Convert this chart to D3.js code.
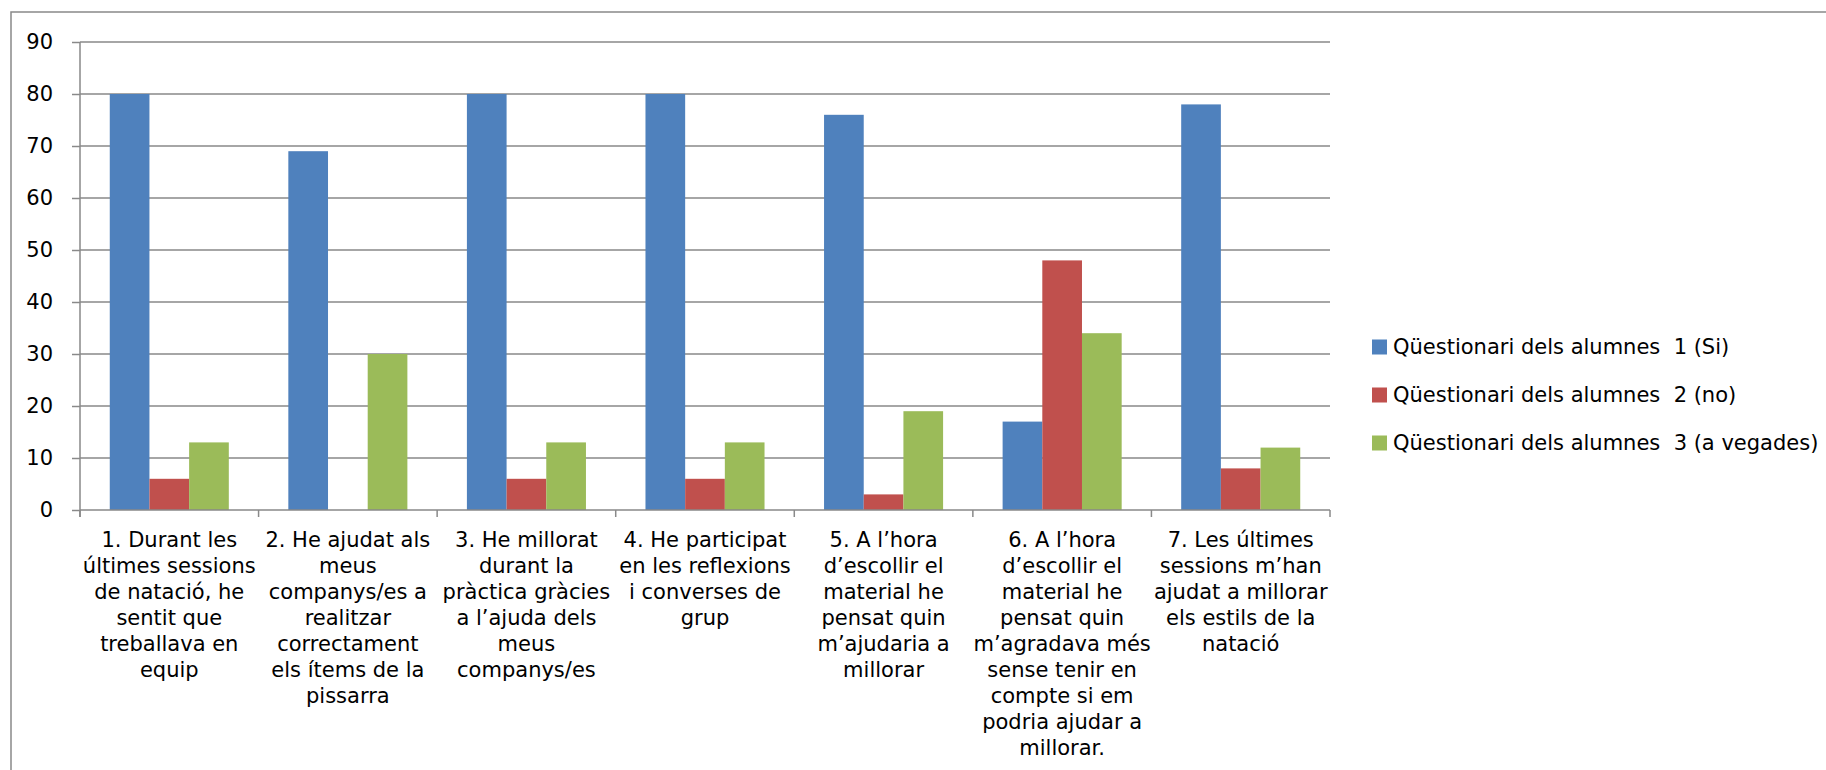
<!DOCTYPE html>
<html>
<head>
<meta charset="utf-8">
<script src="https://cdn.jsdelivr.net/npm/d3@7"></script>
<style>
  html, body { margin: 0; padding: 0; background: #fff; }
  svg text { font-family: "DejaVu Sans", Verdana, sans-serif; fill: #000; }
</style>
</head>
<body>
<svg id="chart" width="1826" height="770"></svg>
<script>
const categories = [
  "1. Durant les\núltimes sessions\nde natació, he\nsentit que\ntreballava en\nequip",
  "2. He ajudat als\nmeus\ncompanys/es a\nrealitzar\ncorrectament\nels ítems de la\npissarra",
  "3. He millorat\ndurant la\npràctica gràcies\na l’ajuda dels\nmeus\ncompanys/es",
  "4. He participat\nen les reflexions\ni converses de\ngrup",
  "5. A l’hora\nd’escollir el\nmaterial he\npensat quin\nm’ajudaria a\nmillorar",
  "6. A l’hora\nd’escollir el\nmaterial he\npensat quin\nm’agradava més\nsense tenir en\ncompte si em\npodria ajudar a\nmillorar.",
  "7. Les últimes\nsessions m’han\najudat a millorar\nels estils de la\nnatació"
];
const seriesNames = [
  "Qüestionari dels alumnes  1 (Si)",
  "Qüestionari dels alumnes  2 (no)",
  "Qüestionari dels alumnes  3 (a vegades)"
];
const siValues = [80, 69, 80, 80, 76, 17, 78];
const noValues = [6, 0, 6, 6, 3, 48, 8];
const aVegadesValues = [13, 30, 13, 13, 19, 34, 12];
const seriesColors = ["#4F81BD", "#C0504D", "#9BBB59"];
const yTicks = [0, 10, 20, 30, 40, 50, 60, 70, 80, 90];

(function () {
const seriesValues = [siValues, noValues, aVegadesValues];
const svg = d3.select("#chart");
const pLeft = 80, pRight = 1330, pTop = 42, pBottom = 510;
const gridColor = "#898989";
const fs = 21;

// outer border
svg.append("rect").attr("x", 11).attr("y", 12).attr("width", 1840).attr("height", 800)
  .attr("fill", "none").attr("stroke", gridColor).attr("stroke-width", 1.5);

const x = d3.scaleBand().domain(d3.range(categories.length)).range([pLeft, pRight]);
const bw = x.bandwidth();
const inner = d3.scaleBand().domain(d3.range(3)).range([0.75 * bw / 4.5, 3.75 * bw / 4.5]);
const y = d3.scaleLinear().domain([0, 90]).range([pBottom, pTop]);

// gridlines
svg.append("g").selectAll("line").data(yTicks.filter(t => t > 0)).join("line")
  .attr("x1", pLeft).attr("x2", pRight).attr("y1", d => y(d)).attr("y2", d => y(d))
  .attr("stroke", gridColor).attr("stroke-width", 1.5);

// bars
const groups = svg.append("g").selectAll("g").data(seriesValues).join("g")
  .attr("fill", (d, i) => seriesColors[i]);
groups.each(function (vals, si) {
  d3.select(this).selectAll("rect").data(vals).join("rect")
    .attr("x", (d, ci) => x(ci) + inner(si))
    .attr("y", d => y(d))
    .attr("width", inner.bandwidth())
    .attr("height", d => y(0) - y(d));
});

// y axis
const yAxis = d3.axisLeft(y).tickValues(yTicks).tickSize(8).tickPadding(19);
const yg = svg.append("g").attr("transform", `translate(${pLeft},0)`).call(yAxis);
yg.select(".domain").attr("stroke", gridColor).attr("stroke-width", 1.5).attr("d", `M0,${pTop}V${pBottom + 7}`);
yg.selectAll(".tick line").attr("stroke", gridColor).attr("stroke-width", 1.5);
yg.selectAll(".tick text").attr("font-size", fs).style("font-family", "'DejaVu Sans', Verdana, sans-serif").attr("fill", "#000");

// x axis line & ticks
const xg = svg.append("g");
xg.append("line").attr("x1", pLeft).attr("x2", pRight).attr("y1", pBottom).attr("y2", pBottom)
  .attr("stroke", gridColor).attr("stroke-width", 1.5);
xg.selectAll("line.tk").data(d3.range(categories.length + 1)).join("line").attr("class", "tk")
  .attr("x1", d => d < categories.length ? x(d) : pRight).attr("x2", d => d < categories.length ? x(d) : pRight)
  .attr("y1", pBottom).attr("y2", pBottom + 7)
  .attr("stroke", gridColor).attr("stroke-width", 1.5);

// category labels
const lab = svg.append("g").selectAll("text").data(categories).join("text")
  .attr("x", (d, i) => x(i) + bw / 2)
  .attr("y", 540)
  .attr("text-anchor", "middle")
  .attr("font-size", fs);
lab.each(function (d, i) {
  d3.select(this).selectAll("tspan").data(d.split("\n")).join("tspan")
    .attr("x", x(i) + bw / 2)
    .attr("dy", (t, j) => j === 0 ? "0.35em" : 25.9)
    .text(t => t);
});

// legend
const leg = svg.append("g").selectAll("g").data(seriesNames).join("g")
  .attr("transform", (d, i) => `translate(1372,${347 + i * 48})`);
leg.append("rect").attr("x", 0).attr("y", -7.5).attr("width", 15).attr("height", 15)
  .attr("fill", (d, i) => seriesColors[i]);
leg.append("text").attr("x", 21).attr("y", 0).attr("dy", "0.35em").attr("font-size", fs)
  .style("white-space", "pre").text(d => d);
})();
</script>
</body>
</html>
